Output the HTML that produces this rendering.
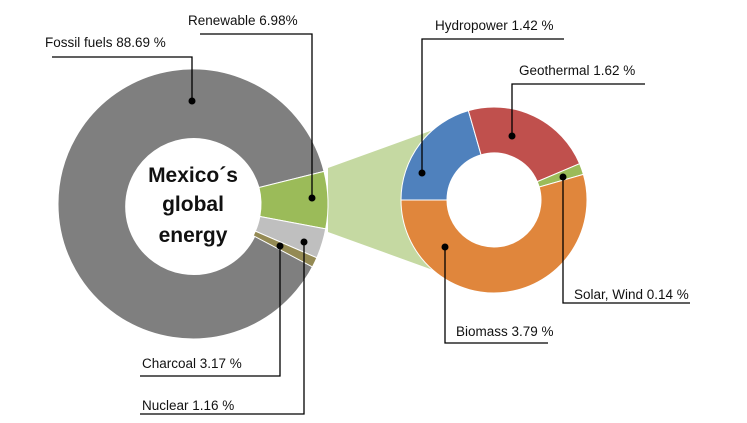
<!DOCTYPE html>
<html><head><meta charset="utf-8"><style>body{margin:0;background:#fff}svg{display:block}text{font-family:"Liberation Sans",sans-serif;font-size:13.5px;fill:#111}</style></head><body>
<svg width="747" height="423" viewBox="0 0 747 423" xmlns="http://www.w3.org/2000/svg">
<polygon points="328,168 433,130 433,270 328,232" fill="#c5d9a2"/>
<g stroke="#fff" stroke-width="1">
<path d="M323.99,236.54 A135,135 0 1 1 323.99,171.34 L258.98,187.55 A68,68 0 1 0 259.00,225.44 Z" fill="#7f7f7f"/>
<path d="M323.99,171.34 A135,135 0 0 1 325.70,228.85 L259.83,216.51 A68,68 0 0 0 258.98,187.55 Z" fill="#9bbb59"/>
<path d="M325.70,228.85 A135,135 0 0 1 316.80,257.82 L255.36,231.11 A68,68 0 0 0 259.83,216.51 Z" fill="#bfbfbf"/>
<path d="M316.80,257.82 A135,135 0 0 1 312.51,266.91 L253.20,235.60 A68,68 0 0 0 255.36,231.11 Z" fill="#948a54"/>
<path d="M401,200 A93,93 0 0 1 468.37,110.60 L481.04,154.82 A47,47 0 0 0 447,200 Z" fill="#4f81bd"/>
<path d="M468.37,110.60 A93,93 0 0 1 579.61,163.66 L537.26,181.64 A47,47 0 0 0 481.04,154.82 Z" fill="#c0504d"/>
<path d="M579.61,163.66 A93,93 0 0 1 583.40,174.37 L539.18,187.04 A47,47 0 0 0 537.26,181.64 Z" fill="#9bbb59"/>
<path d="M583.40,174.37 A93,93 0 1 1 401,200 L447,200 A47,47 0 1 0 539.18,187.04 Z" fill="#e0863c"/>
</g>
<circle cx="494" cy="200" r="46.5" fill="#fff"/>
<text x="193" y="182" text-anchor="middle" style="font-size:21px;font-weight:bold">Mexico´s</text>
<text x="193" y="211" text-anchor="middle" style="font-size:21px;font-weight:bold">global</text>
<text x="193" y="242" text-anchor="middle" style="font-size:21px;font-weight:bold">energy</text>
<g stroke="#000" stroke-width="1.3" fill="none">
<polyline points="52,57 192,57 192,101"/>
<polyline points="200,34 312,34 312,198"/>
<polyline points="140,376 280,376 280,246"/>
<polyline points="140,414 304,414 304,242"/>
<polyline points="564,39 422,39 422,173"/>
<polyline points="645,84 512,84 512,136"/>
<polyline points="690,303 563,303 563,177"/>
<polyline points="548,343 445,343 445,247"/>
</g>
<g fill="#000">
<circle cx="192" cy="101" r="3.5"/><circle cx="312" cy="198" r="3.5"/><circle cx="280" cy="246" r="3.5"/><circle cx="304" cy="242" r="3.5"/>
<circle cx="422" cy="173" r="3.5"/><circle cx="512" cy="136" r="3.5"/><circle cx="563" cy="177" r="3.5"/><circle cx="445" cy="247" r="3.5"/>
</g>
<text x="45" y="47">Fossil fuels 88.69 %</text>
<text x="188" y="25">Renewable 6.98%</text>
<text x="142" y="368">Charcoal 3.17 %</text>
<text x="142" y="410">Nuclear 1.16 %</text>
<text x="435" y="30">Hydropower 1.42 %</text>
<text x="519" y="75">Geothermal 1.62 %</text>
<text x="574" y="299">Solar, Wind 0.14 %</text>
<text x="456" y="336">Biomass 3.79 %</text>
</svg>
</body></html>
